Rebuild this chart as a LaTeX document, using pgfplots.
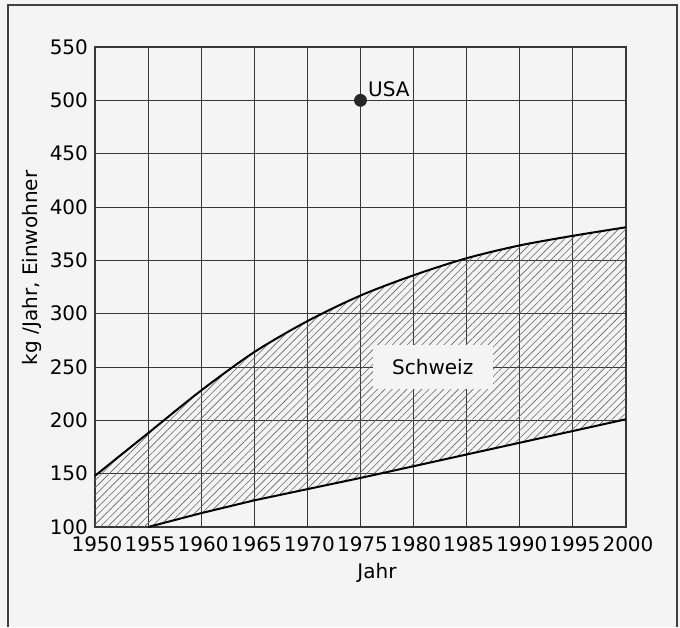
\documentclass[border=0pt]{standalone}
\usepackage{fontspec}
\setmainfont{DejaVu Sans}
\usepackage{pgfplots}
\pgfplotsset{compat=1.18}
\usepgfplotslibrary{fillbetween}
\usetikzlibrary{patterns.meta}
\definecolor{bg}{RGB}{244,244,244}
\definecolor{gridc}{RGB}{55,55,55}
\begin{document}
\begin{tikzpicture}[font=\fontsize{10}{12}\selectfont]
% 1px of the reference = 0.5pt; axis box corner at origin
\begin{axis}[
  at={(0,0)}, anchor=south west,
  set layers, clip=false,
  scale only axis, width=265.5pt, height=240pt,
  xmin=1950, xmax=2000, ymin=100, ymax=550,
  xtick={1950,1955,...,2000}, ytick={100,150,...,550},
  grid=major,
  major grid style={gridc, line width=0.5pt},
  axis line style={gridc, line width=0.7pt},
  major tick length=0pt,
  xticklabel style={yshift=-1.5pt, xshift=1pt},
  /pgf/number format/assume math mode=true,
  /pgf/number format/1000 sep={},
  xlabel={Jahr},
  ylabel={kg /Jahr, Einwohner},
  every axis x label/.style={at={(axis description cs:0.531,-0.096)}, anchor=center},
  every axis y label/.style={at={(axis description cs:-0.1186,0.54)}, rotate=90, anchor=center},
]
\begin{pgfonlayer}{axis background}
\fill[bg] ([shift={(-47.5pt,-50pt)}]rel axis cs:0,0) rectangle ([shift={(292.5pt,263.5pt)}]rel axis cs:0,0);
\end{pgfonlayer}
% upper bound (Schweiz)
\addplot[name path=upper, smooth, tension=0.5, line width=1pt, black] coordinates {
  (1950,148) (1955,188) (1960,228) (1965,264) (1970,293) (1975,317)
  (1980,336) (1985,352) (1990,364) (1995,373) (2000,381)};
% lower bound, closed along the x axis before 1955 for the fill
\addplot[name path=lowerfill, draw=none, forget plot] coordinates {
  (1950,100) (1955,100) (1960,113) (1965,125) (1970,135.5) (1975,146)
  (1980,157) (1985,168) (1990,179) (1995,190) (2000,201)};
\addplot[pattern={Lines[angle=45, distance=2.6pt, line width=0.3pt]}, pattern color=black!60, draw=none]
  fill between[of=upper and lowerfill];
\addplot[line width=1pt, black] coordinates {
  (1955,100) (1960,113) (1965,125) (1970,135.5) (1975,146)
  (1980,157) (1985,168) (1990,179) (1995,190) (2000,201)};
% USA
\addplot[only marks, mark=*, mark size=3pt, black!85] coordinates {(1975,500)};
\node[anchor=south west, inner sep=1pt] at (axis cs:1975.5,501) {USA};
\node[fill=bg, inner sep=0pt, minimum width=60pt, minimum height=22pt] at (axis cs:1981.8,250) {Schweiz};
\end{axis}
\draw[line width=0.9pt, black!75] (-43.5pt,-50pt) -- (-43.5pt,261pt) -- (291pt,261pt) -- (291pt,-50pt);
\pgfresetboundingbox
\path[use as bounding box] (-47.5pt,-50pt) rectangle (292.5pt,263.5pt);
\end{tikzpicture}
\end{document}
